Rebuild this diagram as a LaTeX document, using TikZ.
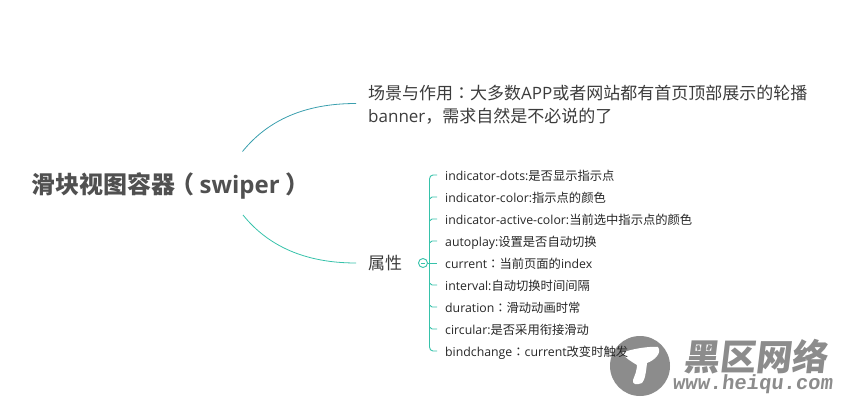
\documentclass[tikz,border=0pt]{standalone}
\usepackage{fontspec}
\setmainfont{Open Sans}
\newfontfamily\cjfont{Noto Sans CJK SC}
\newfontfamily\tcfont{Noto Sans CJK TC}
\newfontfamily\wmfont{Liberation Mono}
\newcommand{\cj}[1]{{\cjfont #1}}
\newcommand{\cc}{{\tcfont ：}}
\definecolor{topline}{HTML}{3A9FAE}
\definecolor{botline}{HTML}{36C2AA}
\definecolor{ink}{HTML}{3C3C3C}
\definecolor{wm}{HTML}{8C8C8C}
\tikzset{
  rootnode/.style={font=\bfseries\fontsize{24}{28}\selectfont,text=ink!90!white,anchor=base west,inner sep=0pt},
  midnode/.style={font=\fontsize{17}{23}\selectfont,text=ink,anchor=base west,inner sep=0pt,align=left},
  leafnode/.style={font=\fontsize{12.3}{14}\selectfont,text=black!85,anchor=base west,inner sep=0pt},
  link/.style={line width=0.8pt},
  brk/.style={botline,line width=0.9pt},
  wmtext/.style={text=wm,inner sep=0pt}
}
\begin{document}
\begin{tikzpicture}[x=1pt,y=-1pt]
\useasboundingbox (0,0) rectangle (842,401);
% watermark disc drawn beneath the labels
\fill[wm] (640,366) circle[radius=30];
\fill[white] (622,353) .. controls (630,349) and (650,346) .. (658,347)
  .. controls (662,353) and (655,360) .. (647,363)
  .. controls (646,372) and (645,380) .. (642,383)
  .. controls (637,385) and (632,385) .. (633,380)
  .. controls (635,375) and (637,370) .. (637,365)
  .. controls (632,362) and (625,358) .. (622,353) -- cycle;
\node[wmtext,font=\cjfont\bfseries\fontsize{36}{36}\selectfont,xslant=0.12] (wmA) at (757,357) {黑区网络};
\node[wmtext,font=\wmfont\bfseries\fontsize{20.5}{20}\selectfont,xslant=0.12] (wmB) at (753,384.5) {www.heiqu.com};
% nodes
\node[rootnode] (root) at (31,193) {\cj{滑块视图容器}\hspace{0.02em}\rlap{\hspace{-0.22em}\cj{（}}\hspace{1em}swiper\rlap{\hspace{0.22em}\cj{）}}\hspace{1em}};
\node[midnode] (sceneA) at (368,99.3) {\cj{场景与作用}\cc\cj{大多数}APP\cj{或者网站都有首页顶部展示的轮播}};
\node[midnode] (sceneB) at (368,122) {banner\cj{，需求自然是不必说的了}};
\node[midnode] (attr) at (368,269) {\cj{属性}};
\node[leafnode] (l1) at (445,180) {indicator-dots:\cj{是否显示指示点}};
\node[leafnode] (l2) at (445,202) {indicator-color:\cj{指示点的颜色}};
\node[leafnode] (l3) at (445,224) {indicator-active-color:\cj{当前选中指示点的颜色}};
\node[leafnode] (l4) at (445,246) {autoplay:\cj{设置是否自动切换}};
\node[leafnode] (l5) at (445,268) {current\cc\cj{当前页面的}index};
\node[leafnode] (l6) at (445,290) {interval:\cj{自动切换时间间隔}};
\node[leafnode] (l7) at (445,312) {duration\cc\cj{滑动动画时常}};
\node[leafnode] (l8) at (445,334) {circular:\cj{是否采用衔接滑动}};
\node[leafnode] (l9) at (445,356) {bindchange\cc current\cj{改变时触发}};
% connector ends
\coordinate (rootT) at (242.5,151.5);
\coordinate (rootB) at (243,215);
\coordinate (sceneIn) at (356,103.5);
\coordinate (attrIn) at (356,263);
\draw[link,topline] (rootT) .. controls (268,120) and (305,103.5) .. (sceneIn);
\draw[link,botline] (rootB) .. controls (268,246) and (305,263) .. (attrIn);
% bracket: tick ends sit 5 above each baseline
\foreach \n in {1,...,9} \coordinate (t\n) at ([xshift=-8pt,yshift=5pt]l\n.base west);
\draw[brk] (t1) -- ([xshift=-4pt]t1)
  to[out=180,in=90] ([xshift=-7.5pt,yshift=-4pt]t1)
  -- ([xshift=-7.5pt,yshift=4pt]t9)
  to[out=-90,in=180] ([xshift=-4pt]t9) -- (t9);
\foreach \n in {2,3,4}
  \draw[brk] (t\n) -- ([xshift=-5pt]t\n) -- ([xshift=-7.5pt,yshift=-2pt]t\n);
\foreach \n in {6,7,8}
  \draw[brk] (t\n) -- ([xshift=-5pt]t\n) -- ([xshift=-7.5pt,yshift=2pt]t\n);
% collapse marker
\node[draw=botline,fill=white,circle,line width=0.9pt,minimum size=9pt,inner sep=0pt] (toggle) at (423,263) {};
\draw[brk] (toggle.east) -- (t5);
\draw[line width=0.7pt,botline] ([xshift=-2.2pt]toggle.center) -- ([xshift=2.2pt]toggle.center);
\end{tikzpicture}
\end{document}
